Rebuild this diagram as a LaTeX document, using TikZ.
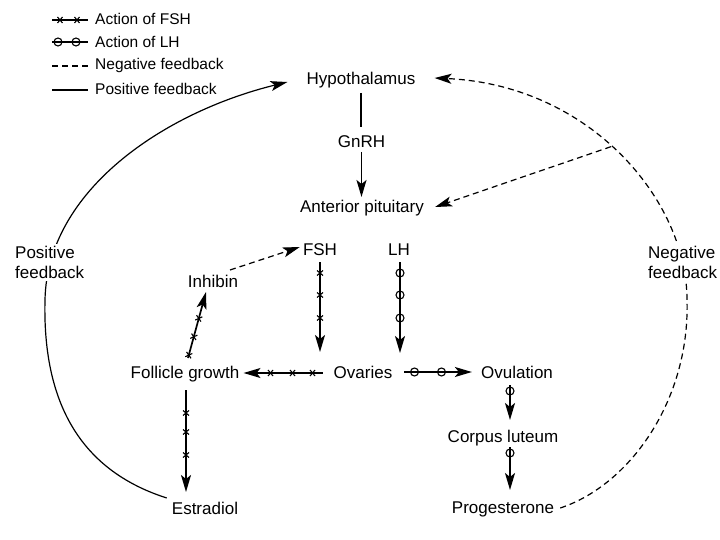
\documentclass[tikz,border=0pt]{standalone}
\usepackage{fontspec}
\setmainfont{Liberation Sans}
\usetikzlibrary{arrows.meta,decorations.markings}
\tikzset{
  lbl/.style={inner sep=0pt, anchor=base, font=\fontsize{17}{20}\selectfont},
  leg/.style={inner sep=0pt, anchor=base west, font=\fontsize{15.5}{18}\selectfont},
  side/.style={inner sep=2pt, anchor=north west, align=left, fill=white, font=\fontsize{17}{20}\selectfont},
  tip/.style={-{Stealth[length=17pt,width=10pt,inset=4pt]}},
  act/.style={line width=1.7pt},
  negfb/.style={line width=1.2pt, dash pattern=on 6pt off 4pt},
  posfb/.style={line width=1.2pt},
  xm/.style={postaction={decorate, decoration={markings, mark=at position #1 with {\draw[-,solid,line width=1.1pt] (-2.5pt,-3pt)--(2.5pt,3pt) (-2.5pt,3pt)--(2.5pt,-3pt);}}}},
  om/.style={postaction={decorate, decoration={markings, mark=at position #1 with {\draw[-,solid,line width=1.1pt] (0pt,0pt) circle[radius=4pt];}}}},
}
\begin{document}
\begin{tikzpicture}[x=1pt,y=-1pt]
\fill[white] (0,0) rectangle (720,540);
\useasboundingbox (0,0) rectangle (720,540);

% legend
\coordinate (la1) at (52,20); \coordinate (lb1) at (88,20);
\coordinate (la2) at (52,42); \coordinate (lb2) at (88,42);
\coordinate (la3) at (52,66); \coordinate (lb3) at (88,66);
\coordinate (la4) at (52,90); \coordinate (lb4) at (88,90);
\draw[line width=1.5pt, xm=8pt, xm=25pt] (la1) -- (lb1);
\draw[line width=1.5pt, om=6pt, om=24pt] (la2) -- (lb2);
\draw[negfb, line width=1.4pt] (la3) -- (lb3);
\draw[posfb, line width=1.5pt] (la4) -- (lb4);
\node[leg] (lt1) at (95,25) {Action of FSH};
\node[leg] (lt2) at (95,48) {Action of LH};
\node[leg] (lt3) at (95,70) {Negative feedback};
\node[leg] (lt4) at (95,95) {Positive feedback};

% main nodes
\node[lbl] (hypo) at (361,85) {Hypothalamus};
\node[lbl] (gnrh) at (361.5,148) {GnRH};
\node[lbl] (ant)  at (362,212) {Anterior pituitary};
\node[lbl] (fsh)  at (320,255) {FSH};
\node[lbl] (lh)   at (399,255) {LH};
\node[lbl] (inh)  at (213,287) {Inhibin};
\node[lbl] (fol)  at (185,378) {Follicle growth};
\node[lbl] (ov)   at (363,378) {Ovaries};
\node[lbl] (ovul) at (517,378) {Ovulation};
\node[lbl] (corp) at (503,442) {Corpus luteum};
\node[lbl] (prog) at (503,513) {Progesterone};
\node[lbl] (est)  at (205,514) {Estradiol};

% GnRH pathway
\draw[act] ([yshift=-8pt]hypo.base) -- ([yshift=21pt]hypo.base |- gnrh.base);
\draw[act,tip] ([yshift=-4pt]gnrh.base) -- ([yshift=15pt]gnrh.base |- ant.base);

% FSH / LH to ovaries
\draw[act,tip,xm=11pt,xm=33pt,xm=56pt] ([yshift=-7pt]fsh.base) -- ([yshift=26pt]fsh.base |- ov.base);
\draw[act,tip,om=11pt,om=33pt,om=56pt] ([xshift=1pt,yshift=-7pt]lh.base) -- ([xshift=1pt,yshift=25pt]lh.base |- ov.base);

% ovaries outputs
\draw[act,tip,xm=10pt,xm=30pt,xm=52pt] ([xshift=-11pt,yshift=5pt]ov.base west) -- ([xshift=4pt,yshift=5pt]fol.base east);
\draw[act,tip,om=10pt,om=37pt] ([xshift=12pt,yshift=6pt]ov.base east) -- ([xshift=-9pt,yshift=6pt]ovul.base west);
\draw[act,tip,om=6pt] ([xshift=-7pt,yshift=-7pt]ovul.base) -- ([xshift=-7pt,yshift=22pt]ovul.base |- corp.base);
\draw[act,tip,om=6pt] ([xshift=7pt,yshift=-5pt]corp.base) -- ([xshift=7pt,yshift=23pt]corp.base |- prog.base);

% follicle growth outputs
\draw[act,tip,xm=23pt,xm=42pt,xm=65pt] ([xshift=1pt,yshift=-12pt]fol.base) -- ([xshift=1pt,yshift=22pt]fol.base |- est.base);
\draw[act,tip,xm=3pt,xm=22pt,xm=41pt] ([xshift=3pt,yshift=20pt]fol.base) -- ([xshift=-7pt,yshift=-5pt]inh.base);

% inhibin negative feedback
\draw[negfb,tip] ([xshift=17pt,yshift=17pt]inh.base) -- ([xshift=-3pt,yshift=8pt]fsh.base west);

% negative feedback loop (progesterone)
\draw[negfb,tip] ([xshift=6pt,yshift=5pt]prog.base east) .. controls (630,485) and (690,400) .. (687,300)
   .. controls (687,200) and (590,85) .. ([xshift=19pt,yshift=7pt]hypo.base east) coordinate[pos=0.53] (br);
\draw[negfb,tip] (br) -- ([xshift=11pt,yshift=5pt]ant.base east);

% positive feedback loop (estradiol)
\draw[posfb,tip] ([xshift=-5pt,yshift=16pt]est.base west) .. controls (95,475) and (42,420) .. (45,300)
   .. controls (47,190) and (165,112) .. ([xshift=-19pt,yshift=3pt]hypo.base west);

% side labels
\node[side] (poslbl) at (13,244) {Positive\\feedback};
\node[side] (neglbl) at (646,244) {Negative\\feedback};
\end{tikzpicture}
\end{document}
